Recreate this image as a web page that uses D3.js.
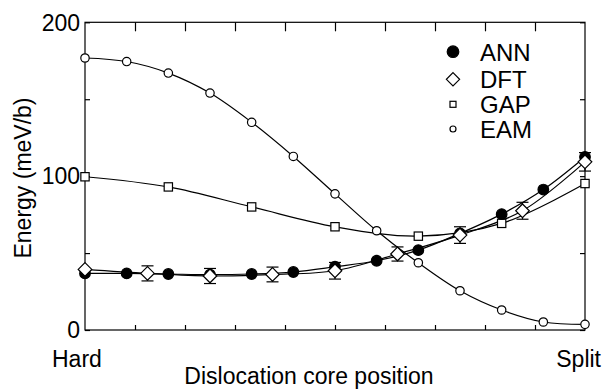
<!DOCTYPE html>
<html><head><meta charset="utf-8">
<script src="https://cdn.jsdelivr.net/npm/d3@7"></script>
<style>body{margin:0;background:#fff}svg{display:block}text{font-family:"Liberation Sans",Arial,sans-serif;fill:#000}</style>
</head><body><svg id="c" width="609" height="390"></svg>
<script>
// ---- data ----
const annPos = [0,1,2,3,4,5,6,7,8,9,10,11,12];
const annVal = [36.8,36.8,36.4,36.0,36.4,37.7,41.1,45.0,51.9,62.8,75.3,91.3,112.5];
const dftPos = [0,1.5,3,4.5,6,7.5,9,10.5,12];
const dftVal = [39.4,36.8,35.1,36.1,38.5,49.4,61.7,77.5,109.3];
const dftErr = [0,4.9,4.9,4.8,5.4,4.6,5.4,5.5,6.0];
const gapPos = [0,2,4,6,8,10,12];
const gapVal = [99.6,93.0,80.0,67.1,61.0,69.3,95.2];
const eamPos = [0,1,2,3,4,5,6,7,8,9,10,11,12];
const eamVal = [176.8,174.5,167.0,154.0,135.0,112.8,88.5,64.5,43.7,25.5,13.0,5.2,3.7];
const yMajor = [0,100,200];
const yMinor = [50,150];
const xTickCount = 10;
const xEndLabels = ["Hard","Split"];
const seriesNames = ["ANN","DFT","GAP","EAM"];

const svg = d3.select("#c");
const L=85, R=585, T=22.3, B=330;
const x = d3.scaleLinear().domain([0,12]).range([L,R]);
const xt = d3.scaleLinear().domain([0,xTickCount]).range([L,R]);
const y = d3.scaleLinear().domain([0,200]).range([B,T]);
const sw = 1.2;

// axes (inward ticks)
const axG = svg.append("g");
axG.append("g").attr("transform",`translate(0,${B})`)
  .call(d3.axisBottom(xt).tickValues(d3.range(1,xTickCount)).tickSize(-5).tickFormat(""));
axG.append("g").attr("transform",`translate(0,${T})`)
  .call(d3.axisTop(xt).tickValues(d3.range(1,xTickCount)).tickSize(-9).tickFormat(""));
axG.append("g").attr("transform",`translate(${L},0)`)
  .call(d3.axisLeft(y).tickValues(yMajor.concat(yMinor)).tickSize(-5).tickFormat(""));
axG.append("g").attr("transform",`translate(${R},0)`)
  .call(d3.axisRight(y).tickValues(yMajor.concat(yMinor)).tickSize(-5).tickFormat(""));
axG.selectAll(".domain").remove();
axG.selectAll(".tick line").attr("stroke","#000").attr("stroke-width",sw);
svg.append("rect").attr("x",L).attr("y",T).attr("width",R-L).attr("height",B-T)
  .attr("fill","none").attr("stroke","#000").attr("stroke-width",sw);

// y tick labels
svg.selectAll(".ylab").data(yMajor).enter().append("text")
  .attr("x",L-5).attr("y",d=>y(d)).attr("dy","0.36em").attr("text-anchor","end")
  .attr("font-size",23).text(d=>d);
// x end labels
svg.append("text").attr("x",52).attr("y",366.5).attr("font-size",23).text(xEndLabels[0]);
svg.append("text").attr("x",601).attr("y",366.5).attr("font-size",23).attr("text-anchor","end").text(xEndLabels[1]);
svg.append("text").attr("x",309).attr("y",384).attr("font-size",23).attr("text-anchor","middle").text("Dislocation core position");
svg.append("text").attr("transform","translate(31,178) rotate(-90)").attr("font-size",23)
  .attr("text-anchor","middle").text("Energy (meV/b)");

// lines
const line = d3.line().x(d=>x(d[0])).y(d=>y(d[1])).curve(d3.curveCatmullRom.alpha(0.5));
const zip=(a,b)=>a.map((v,i)=>[v,b[i]]);
const ann = zip(annPos,annVal), dft = zip(dftPos,dftVal), gap = zip(gapPos,gapVal), eam = zip(eamPos,eamVal);
[eam,gap,dft,ann].forEach(s=>svg.append("path").attr("d",line(s)).attr("fill","none").attr("stroke","#000").attr("stroke-width",sw));

// error bars
const eb = svg.append("g").attr("stroke","#000").attr("stroke-width",sw);
dft.forEach((d,i)=>{ const e=dftErr[i]; if(!e) return;
  const cx=x(d[0]);
  eb.append("line").attr("x1",cx).attr("x2",cx).attr("y1",y(d[1]-e)).attr("y2",y(d[1]+e));
  [d[1]-e,d[1]+e].forEach(v=>eb.append("line").attr("x1",cx-6).attr("x2",cx+6).attr("y1",y(v)).attr("y2",y(v)));
});

// markers
function circ(g,cx,cy,r,fill){g.append("circle").attr("cx",cx).attr("cy",cy).attr("r",r).attr("fill",fill).attr("stroke","#000").attr("stroke-width",sw);}
function sq(g,cx,cy,s){g.append("rect").attr("x",cx-s/2).attr("y",cy-s/2).attr("width",s).attr("height",s).attr("fill","#fff").attr("stroke","#000").attr("stroke-width",sw);}
function dia(g,cx,cy,h){g.append("path").attr("d",`M${cx},${cy-h}L${cx+h},${cy}L${cx},${cy+h}L${cx-h},${cy}Z`).attr("fill","#fff").attr("stroke","#000").attr("stroke-width",sw);}
const mg = svg.append("g");
eam.forEach(d=>circ(mg,x(d[0]),y(d[1]),4.2,"#fff"));
gap.forEach(d=>sq(mg,x(d[0]),y(d[1]),8.3));
ann.forEach(d=>circ(mg,x(d[0]),y(d[1]),5.3,"#000"));
dft.forEach(d=>dia(mg,x(d[0]),y(d[1]),6.8));

// legend
const lg = svg.append("g");
const rows=[51.7,79.3,104.3,129];
circ(lg,453,rows[0],5.8,"#000");
dia(lg,453,rows[1],6.6);
sq(lg,453,rows[2],6);
circ(lg,453,rows[3],3,"#fff");
seriesNames.forEach((n,i)=>lg.append("text").attr("x",480).attr("y",rows[i]+9).attr("font-size",24).text(n));
</script></body></html>
